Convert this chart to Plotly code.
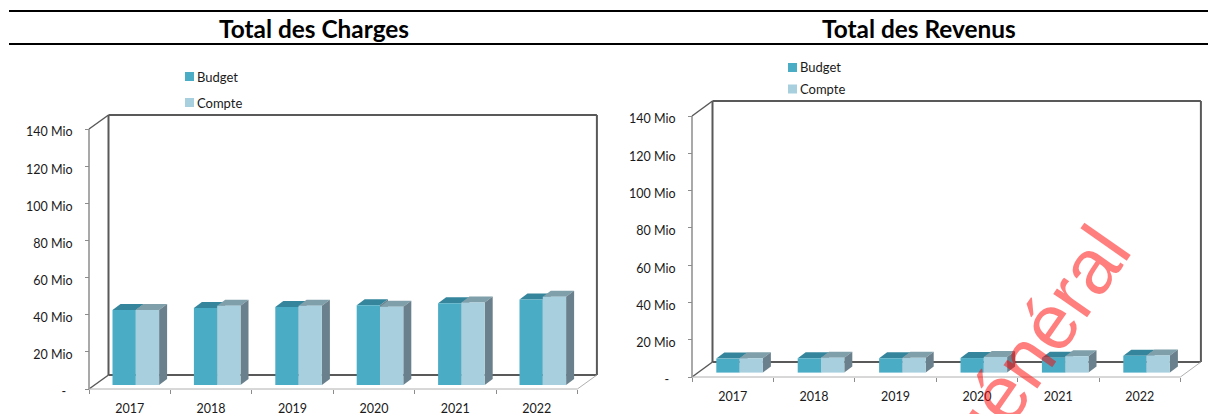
import plotly.graph_objects as go

W, H = 1208, 414
FONT = "Lato, 'Noto Sans', sans-serif"

years = ["2017", "2018", "2019", "2020", "2021", "2022"]
y_tick_values = [0, 20, 40, 60, 80, 100, 120, 140]
y_tick_labels = ["-\u00a0\u00a0", "20 Mio", "40 Mio", "60 Mio", "80 Mio", "100 Mio", "120 Mio", "140 Mio"]

charges_budget = [40.4, 41.5, 42.0, 43.0, 44.0, 46.1]
charges_compte = [40.4, 42.7, 42.7, 42.2, 44.4, 47.5]
revenus_budget = [7.5, 7.7, 7.7, 7.8, 8.0, 9.0]
revenus_compte = [7.7, 8.0, 7.9, 8.4, 8.8, 9.2]

BUDGET_FRONT, BUDGET_TOP = "#4BACC6", "#35869C"
COMPTE_FRONT, COMPTE_TOP, COMPTE_SIDE = "#A7CFDE", "#7F9FAA", "#6A808C"
DARK, MID, LIGHT = "#595959", "#8C8C8C", "#B0B0B0"

fig = go.Figure()
shapes, annotations = [], []


def chart(suffix, budget, compte, x0, y0, ytop, wall_dx, wall_dy, bar_start, bar_base, legend_x, legend_ys):
    cat_px = 81.4
    mio_px = (y0 - ytop) / 140
    pad = 4
    xaxis_name = "xaxis" + suffix
    yaxis_name = "yaxis" + suffix
    xr, yr = "x" + suffix, "y" + suffix
    dx, dy = wall_dx / cat_px, wall_dy / mio_px
    bw = 23.3 / cat_px
    bx = bar_start / cat_px
    base = bar_base / mio_px
    sdx, sdy = 8 / cat_px, 6 / mio_px

    fig.update_layout({
        xaxis_name: dict(
            domain=[(x0 - pad) / W, (x0 + 6 * cat_px + wall_dx + pad) / W],
            range=[-pad / cat_px, 6 + dx + pad / cat_px],
            anchor="free", position=(H - y0) / H, side="bottom", automargin=False,
            tickvals=[i + 0.5 for i in range(6)], ticktext=years,
            ticks="", showgrid=False, zeroline=False, showline=False,
            ticklabelstandoff=10,
            tickfont=dict(family=FONT, size=12.5, color="#1a1a1a"),
            minor=dict(tickvals=list(range(7)), ticks="outside", ticklen=4, tickcolor=MID, tickwidth=1, showgrid=False),
        ),
        yaxis_name: dict(
            domain=[(H - y0 - pad) / H, (H - ytop + wall_dy + pad) / H],
            range=[-pad / mio_px, 140 + dy + pad / mio_px],
            anchor="free", position=x0 / W, side="left", automargin=False,
            tickvals=y_tick_values, ticktext=y_tick_labels,
            ticks="outside", ticklen=4, tickcolor=MID, tickwidth=1, ticklabelstandoff=10, ticklabelshift=3,
            showgrid=False, zeroline=False, showline=False,
            tickfont=dict(family=FONT, size=12.5, color="#1a1a1a"),
        ),
    })

    def seg(xa, ya, xb, yb, color, width):
        shapes.append(dict(type="line", xref=xr, yref=yr, x0=xa, y0=ya, x1=xb, y1=yb,
                           line=dict(color=color, width=width), layer="below"))

    seg(dx, dy, dx, 140 + dy, DARK, 2)
    seg(dx, 140 + dy, 6 + dx, 140 + dy, DARK, 2)
    seg(6 + dx, dy, 6 + dx, 140 + dy, DARK, 2)
    seg(dx, dy, 6 + dx, dy, DARK, 2)
    seg(0, 0, dx, dy, DARK, 1.5)
    seg(0, 140, dx, 140 + dy, DARK, 1.5)
    seg(0, 0, 0, 140, MID, 1.5)
    seg(0, 0, 6, 0, LIGHT, 1)
    seg(6, 0, 6 + dx, dy, LIGHT, 1)

    def face(xs, ys, color, z):
        fig.add_trace(go.Scatter(x=xs + xs[:1], y=ys + ys[:1], mode="lines", fill="toself", fillcolor=color,
                                 line=dict(width=0, color=color), hoverinfo="skip", showlegend=False,
                                 xaxis=xr, yaxis=yr, zorder=z))

    lefts = [i + bx for i in range(6)]
    for i in range(6):
        xl = lefts[i]
        xm, xe = xl + bw, xl + 2 * bw
        tb, tc = base + budget[i], base + compte[i]
        face([xl, xm, xm + sdx, xl + sdx], [tb, tb, tb + sdy, tb + sdy], BUDGET_TOP, 1)
        face([xm, xm + sdx, xm + sdx, xm], [base, base + sdy, tb + sdy, tb], COMPTE_SIDE, 1)
        face([xm, xe, xe + sdx, xm + sdx], [tc, tc, tc + sdy, tc + sdy], COMPTE_TOP, 3)
        face([xe, xe + sdx, xe + sdx, xe], [base, base + sdy, tc + sdy, tc], COMPTE_SIDE, 3)

    fig.add_trace(go.Bar(x=[v + bw / 2 for v in lefts], y=budget, base=base, width=bw, name="Budget",
                         marker=dict(color=BUDGET_FRONT, line=dict(width=0)), xaxis=xr, yaxis=yr,
                         showlegend=False, zorder=2))
    fig.add_trace(go.Bar(x=[v + 1.5 * bw for v in lefts], y=compte, base=base, width=bw, name="Compte",
                         marker=dict(color=COMPTE_FRONT, line=dict(width=0)), xaxis=xr, yaxis=yr,
                         showlegend=False, zorder=4))

    for label, color, ly in zip(["Budget", "Compte"], [BUDGET_FRONT, COMPTE_FRONT], legend_ys):
        shapes.append(dict(type="rect", xref="paper", yref="paper", x0=legend_x / W, x1=(legend_x + 9) / W,
                           y0=(H - ly - 4.5) / H, y1=(H - ly + 4.5) / H, fillcolor=color, line=dict(width=0)))
        annotations.append(dict(xref="paper", yref="paper", x=(legend_x + 10) / W, y=(H - ly) / H, text=label,
                                showarrow=False, xanchor="left", yanchor="middle",
                                font=dict(family=FONT, size=13, color="#1a1a1a")))


chart("", charges_budget, charges_compte, 89, 389, 129, 19.5, 14, 23.5, 4, 185, [76.5, 102.5])
chart("2", revenus_budget, revenus_compte, 692, 377, 116, 20.5, 15, 24.3, 4.4, 788, [67.5, 89])

for y_line in (11, 44):
    shapes.append(dict(type="line", xref="paper", yref="paper", x0=9 / W, x1=1, y0=(H - y_line) / H, y1=(H - y_line) / H,
                       line=dict(color="#000000", width=2)))

for title, cx in (("Total des Charges", 314), ("Total des Revenus", 919)):
    annotations.append(dict(xref="paper", yref="paper", x=cx / W, y=(H - 29) / H, text="<b>%s</b>" % title,
                            showarrow=False, xanchor="center", yanchor="middle",
                            font=dict(family=FONT, size=24.4, color="#000000")))

annotations.append(dict(xref="paper", yref="paper", x=1037 / W, y=(H - 342) / H, text="général", showarrow=False,
                        xanchor="center", yanchor="middle", textangle=-55,
                        font=dict(family="Liberation Sans", size=78, color="rgba(255,0,0,0.5)")))

fig.update_layout(width=W, height=H, margin=dict(l=0, r=0, t=0, b=0), barmode="overlay",
                  paper_bgcolor="#FFFFFF", plot_bgcolor="rgba(0,0,0,0)", showlegend=False,
                  shapes=shapes, annotations=annotations)

fig.write_html("out.html", config={"displayModeBar": False},
               post_script="document.body.style.margin='0';document.body.style.overflow='hidden';")
